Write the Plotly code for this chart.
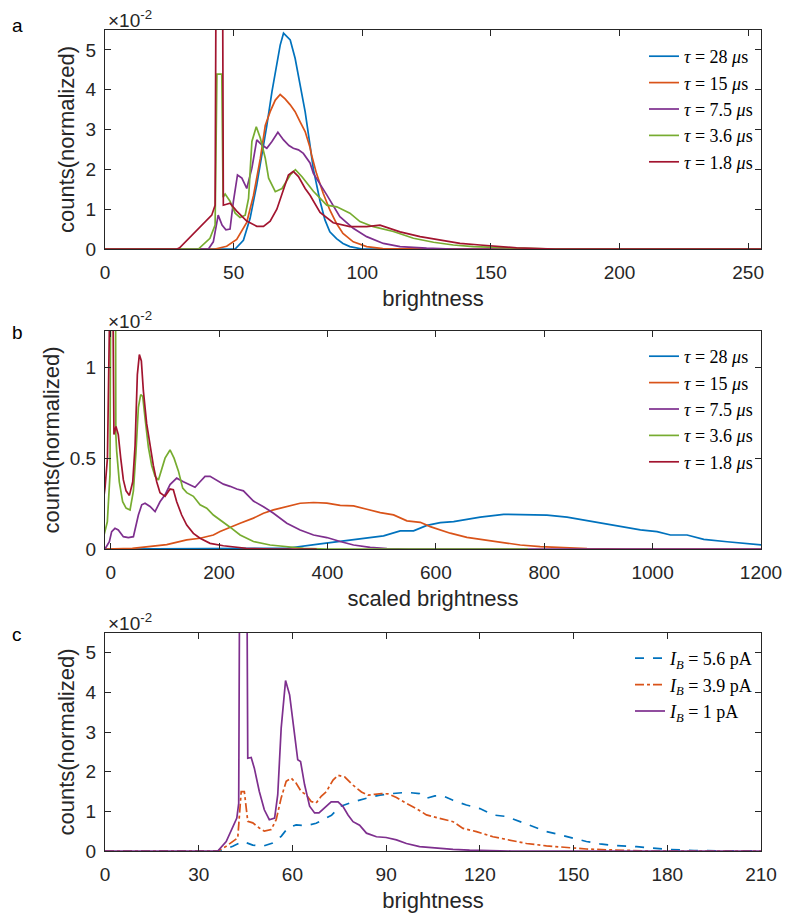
import plotly.graph_objects as go

# ---------------- Panel a : counts (x1e-2) vs brightness ----------------
a_28_x = [0, 50.6, 53.8, 56.4, 59, 61, 62.9, 64.9, 66.8, 68.1, 69.4, 70.7, 72, 73.9, 75.8, 77.8, 79.7, 81, 83.6, 85.5, 87.4, 90, 92.5, 95.2, 100, 255]
a_28_y = [0, 0, 0.22, 0.77, 1.61, 2.36, 3.1, 3.95, 4.7, 5.12, 5.42, 5.33, 5.25, 4.79, 4.12, 3.45, 2.6, 2.0, 1.2, 0.73, 0.43, 0.26, 0.14, 0.06, 0, 0]

a_15_x = [0, 42.8, 47.3, 51.2, 55.1, 57.7, 60.4, 62.3, 64.2, 66.2, 68.1, 70, 72, 73.9, 75.8, 77.8, 79.7, 80.3, 82.2, 84.8, 87.4, 90, 92.5, 96.5, 101.7, 108, 255]
a_15_y = [0, 0, 0.07, 0.24, 0.67, 1.34, 2.28, 3.1, 3.45, 3.74, 3.88, 3.77, 3.62, 3.45, 3.2, 2.95, 2.55, 2.36, 1.9, 1.4, 0.98, 0.64, 0.39, 0.18, 0.06, 0.01, 0]

a_75_x = [0, 40.2, 42.1, 44, 45.5, 47, 48.6, 49.9, 51.5, 53.2, 55.1, 57.1, 59, 61, 62.9, 64.9, 67.2, 69.4, 71.5, 73.2, 75.2, 77.1, 79.7, 81, 86.2, 91.3, 96.5, 101.7, 108.2, 114.7, 125, 135, 255]
a_75_y = [0, 0, 0.18, 0.85, 0.6, 0.48, 0.5, 1.19, 1.86, 1.78, 1.52, 2.03, 2.74, 2.61, 2.53, 2.7, 2.93, 2.74, 2.6, 2.53, 2.49, 2.4, 2.16, 1.9, 1.36, 0.81, 0.52, 0.31, 0.14, 0.06, 0.02, 0, 0]

a_36_x = [0, 36.3, 40.8, 42.8, 43.5, 45.4, 45.9, 46.7, 48.6, 50.6, 52.5, 54.5, 55.8, 57.1, 58.8, 60.4, 62.3, 63.6, 66.2, 68.8, 72, 74, 76.5, 79.7, 81, 86.2, 90.1, 95.2, 99.1, 104.3, 112.1, 119.9, 127.7, 135.4, 143.2, 160, 175, 255]
a_36_y = [0, 0, 0.27, 0.6, 4.39, 4.39, 1.3, 1.38, 1.2, 0.9, 0.79, 0.85, 1.27, 2.7, 3.07, 2.78, 2.28, 1.78, 1.44, 1.52, 1.86, 1.99, 1.82, 1.55, 1.45, 1.1, 1.06, 0.9, 0.69, 0.56, 0.44, 0.27, 0.17, 0.1, 0.06, 0.02, 0, 0]

a_18_x = [0, 28, 29, 34, 38, 41.5, 42.8, 43.3, 45.6, 46, 48.6, 51.2, 55.1, 59, 61.6, 64.2, 66.8, 69.4, 71.3, 73.2, 75.2, 77.8, 79.7, 83.6, 88.7, 95.2, 101.7, 106.9, 114.7, 122.5, 130.2, 138, 145.8, 152.2, 160, 175, 255]
a_18_y = [0, 0, 0.03, 0.35, 0.6, 0.85, 1.1, 9, 9, 1.1, 1.15, 0.95, 0.7, 0.57, 0.57, 0.7, 1.0, 1.52, 1.86, 1.95, 1.82, 1.52, 1.35, 0.92, 0.66, 0.56, 0.56, 0.6, 0.43, 0.31, 0.23, 0.14, 0.1, 0.06, 0.03, 0, 0]

# ---------------- Panel b : counts (x1e-2) vs scaled brightness ----------------
b_28_x = [-12, 250, 325, 386.6, 448.1, 503.5, 534.3, 558.9, 583.5, 608.2, 632.8, 682, 725.1, 755.8, 805.1, 842, 878.9, 928.2, 977.4, 1008.2, 1032.8, 1063.6, 1094.4, 1137.5, 1199, 1210]
b_28_y = [0, 0, 0.004, 0.028, 0.05, 0.072, 0.1, 0.1, 0.13, 0.145, 0.151, 0.175, 0.191, 0.188, 0.186, 0.175, 0.157, 0.133, 0.105, 0.096, 0.077, 0.077, 0.053, 0.04, 0.022, 0.02]

b_15_x = [-12, 40, 103.4, 140.3, 164.9, 189.5, 201.8, 220.3, 238.8, 263.4, 281.9, 300.4, 325, 349.6, 374.3, 398.9, 423.5, 448.1, 472.7, 497.4, 522, 546.6, 558.9, 571.2, 589.6, 626.6, 657.3, 694.3, 718.9, 755.8, 792.7, 829.6, 878.9, 950, 1200]
b_15_y = [0, 0.003, 0.024, 0.05, 0.059, 0.077, 0.096, 0.12, 0.142, 0.17, 0.197, 0.215, 0.233, 0.252, 0.256, 0.252, 0.24, 0.237, 0.219, 0.2, 0.188, 0.155, 0.151, 0.147, 0.123, 0.087, 0.064, 0.049, 0.035, 0.022, 0.013, 0.007, 0.002, 0, 0]

b_75_x = [-12, -10.5, -2.5, 1.8, 7.9, 14, 23.4, 32.6, 41.9, 51.1, 57.3, 63.4, 72.6, 81.9, 91, 100.3, 109.5, 121.8, 134.1, 146.4, 155.6, 164.9, 174.1, 183.4, 195.7, 208, 220.3, 232.6, 244.9, 263.4, 281.9, 300.4, 325, 349.6, 374.3, 398.9, 423.5, 448.1, 478.9, 509.7, 550, 1200]
b_75_y = [0, 0, 0.04, 0.096, 0.114, 0.105, 0.068, 0.063, 0.068, 0.187, 0.243, 0.252, 0.234, 0.206, 0.26, 0.298, 0.355, 0.39, 0.37, 0.355, 0.34, 0.37, 0.4, 0.4, 0.38, 0.357, 0.345, 0.33, 0.32, 0.264, 0.233, 0.197, 0.142, 0.105, 0.077, 0.063, 0.041, 0.022, 0.009, 0.002, 0, 0]

b_36_x = [-12, -10.5, -6.2, -1.3, 1.8, 7.9, 9.5, 11, 15.9, 22.1, 28.4, 35.7, 41.9, 46.8, 51.1, 55.4, 59.1, 63.4, 69.6, 75.7, 81.9, 88.1, 94.2, 100.3, 109.5, 116.9, 124.9, 132.9, 140.3, 152.6, 164.9, 177.2, 189.5, 201.8, 208, 220.3, 238.8, 263.4, 294.2, 325, 355.8, 400, 770]
b_36_y = [0.08, 0.096, 0.15, 0.41, 3, 3, 0.63, 0.54, 0.37, 0.26, 0.225, 0.215, 0.32, 0.54, 0.78, 0.85, 0.84, 0.72, 0.56, 0.46, 0.4, 0.38, 0.44, 0.5, 0.545, 0.5, 0.43, 0.335, 0.31, 0.29, 0.243, 0.225, 0.187, 0.16, 0.15, 0.12, 0.077, 0.041, 0.022, 0.013, 0.004, 0, 0]

b_18_x = [-12, -10.5, -6, -2, 0, 4, 6, 9.8, 14, 18.5, 23.4, 28.4, 34.5, 40.7, 45, 49.2, 52.9, 56.6, 60.3, 66.4, 72.6, 78.7, 84.9, 91, 100.3, 109.5, 115.6, 121.8, 131, 140.3, 152.6, 164.9, 183.4, 208, 250, 300, 380]
b_18_y = [0.3, 0.335, 0.5, 1.3, 3, 3, 0.63, 0.675, 0.63, 0.5, 0.38, 0.32, 0.295, 0.37, 0.57, 0.96, 1.07, 1.035, 0.87, 0.69, 0.56, 0.46, 0.37, 0.31, 0.29, 0.33, 0.326, 0.26, 0.187, 0.132, 0.086, 0.059, 0.031, 0.018, 0.004, 0, 0]

# ---------------- Panel c : counts (x1e-2) vs brightness, beam current ----------------
c_56_x = [0, 37.2, 40.9, 44.1, 47.3, 50.5, 53.7, 56.4, 58.5, 61.2, 64.4, 67.6, 70, 72.5, 75.1, 79.4, 83.7, 88, 92.2, 96.5, 100.7, 102.9, 105.6, 108.3, 111.4, 115.7, 120, 124.2, 128.5, 132.8, 137, 141.3, 145.6, 149.8, 154.1, 158.4, 162.7, 170.2, 180, 188.6, 200, 210]
c_56_y = [0, 0, 0.12, 0.24, 0.15, 0.12, 0.2, 0.37, 0.58, 0.66, 0.64, 0.7, 0.8, 0.9, 1.12, 1.24, 1.33, 1.41, 1.45, 1.48, 1.45, 1.33, 1.39, 1.39, 1.28, 1.16, 1.07, 0.91, 0.87, 0.74, 0.61, 0.49, 0.41, 0.32, 0.24, 0.18, 0.14, 0.11, 0.04, 0.01, 0, 0]

c_39_x = [0, 36.1, 38.8, 42.5, 43.6, 44.6, 45.7, 47.3, 49.4, 51, 53.2, 54.8, 56.4, 58, 59.6, 61.2, 62.8, 64.4, 66, 67.6, 69.2, 70.8, 73, 74.6, 76.7, 79.4, 82.1, 84.2, 86.4, 88.5, 90.6, 93.3, 96.5, 99.7, 102.9, 107.2, 111.4, 114.6, 118.9, 124.2, 129.6, 134.9, 141.3, 147.7, 154.1, 160.5, 175, 210]
c_39_y = [0, 0, 0.12, 0.33, 1.5, 1.5, 0.75, 0.71, 0.58, 0.5, 0.54, 0.79, 1.34, 1.76, 1.84, 1.71, 1.5, 1.42, 1.25, 1.21, 1.38, 1.49, 1.79, 1.91, 1.87, 1.66, 1.49, 1.41, 1.43, 1.45, 1.44, 1.35, 1.2, 1.07, 0.91, 0.82, 0.74, 0.57, 0.49, 0.36, 0.28, 0.19, 0.13, 0.09, 0.05, 0.03, 0, 0]

c_10_x = [0, 36.1, 38.8, 40.9, 42.2, 42.8, 43.2, 45.3, 45.7, 46.8, 47.8, 49.4, 51, 52.6, 54.3, 55.3, 56.4, 57.8, 59.1, 60.3, 61.7, 62.6, 63.9, 65.5, 67.1, 68.5, 70.3, 72.4, 74.6, 76.2, 77.8, 79.4, 81.5, 83.7, 86.9, 90, 93.3, 96.5, 100.7, 106.1, 111.4, 116.7, 130, 210]
c_10_y = [0, 0, 0.24, 0.58, 0.83, 1.2, 9, 9, 2.34, 2.36, 2.09, 1.5, 1.04, 0.79, 0.83, 1.42, 3.1, 4.3, 3.94, 3.18, 2.3, 2.26, 1.67, 1.13, 0.96, 0.96, 1.1, 1.24, 1.24, 1.12, 0.91, 0.74, 0.65, 0.45, 0.36, 0.34, 0.28, 0.19, 0.11, 0.07, 0.04, 0.02, 0, 0]

tau_labels = ["<i>τ</i> = 28 <i>μ</i>s", "<i>τ</i> = 15 <i>μ</i>s", "<i>τ</i> = 7.5 <i>μ</i>s",
              "<i>τ</i> = 3.6 <i>μ</i>s", "<i>τ</i> = 1.8 <i>μ</i>s"]
ib_labels = ["<i>I</i><sub><i>B</i></sub> = 5.6 pA", "<i>I</i><sub><i>B</i></sub> = 3.9 pA",
             "<i>I</i><sub><i>B</i></sub> = 1 pA"]
tau_colors = ["#0072BD", "#D95319", "#7E2F8E", "#77AC30", "#A2142F"]
ib_colors = ["#0072BD", "#D95319", "#7E2F8E"]
ib_dash = ["dash", "dashdot", "solid"]

W, H = 785, 917
def fx(p): return p / W
def fy(p): return 1 - p / H

LW = 1.7
fig = go.Figure()
a_series = [(a_28_x, a_28_y), (a_15_x, a_15_y), (a_75_x, a_75_y), (a_36_x, a_36_y), (a_18_x, a_18_y)]
b_series = [(b_28_x, b_28_y), (b_15_x, b_15_y), (b_75_x, b_75_y), (b_36_x, b_36_y), (b_18_x, b_18_y)]
c_series = [(c_56_x, c_56_y), (c_39_x, c_39_y), (c_10_x, c_10_y)]

for (x, y), name, col in zip(a_series, tau_labels, tau_colors):
    fig.add_trace(go.Scatter(x=x, y=y, mode="lines", name=name, line=dict(color=col, width=LW),
                             xaxis="x", yaxis="y", legend="legend"))
for (x, y), name, col in zip(b_series, tau_labels, tau_colors):
    fig.add_trace(go.Scatter(x=x, y=y, mode="lines", name=name, line=dict(color=col, width=LW),
                             xaxis="x2", yaxis="y2", legend="legend2"))
for (x, y), name, col, d in zip(c_series, ib_labels, ib_colors, ib_dash):
    fig.add_trace(go.Scatter(x=x, y=y, mode="lines", name=name, line=dict(color=col, width=LW, dash=d),
                             xaxis="x3", yaxis="y3", legend="legend3"))

SANS = "Liberation Sans, Arial, sans-serif"
AX = "#262626"
common = dict(showline=True, linecolor=AX, linewidth=1, mirror="ticks", ticks="inside", ticklen=6,
              tickwidth=1, tickcolor=AX, showgrid=False, zeroline=False, automargin=False,
              tickfont=dict(family=SANS, size=19, color=AX))
xd = [fx(105), fx(761)]
dom_a = [fy(249), fy(30)]
dom_b = [fy(549), fy(331)]
dom_c = [fy(851), fy(633)]

def xax(rng, tv, title, anchor):
    return dict(common, domain=xd, range=rng, tickvals=tv, anchor=anchor, ticklabelstandoff=6,
                title=dict(text=title, font=dict(family=SANS, size=22, color=AX), standoff=8))
def yax(rng, tv, tt, dom, anchor):
    return dict(common, domain=dom, range=rng, tickvals=tv, ticktext=tt, anchor=anchor, ticklabelstandoff=4,
                title=dict(text="counts(normalized)", font=dict(family=SANS, size=22, color=AX), standoff=4))

leg_common = dict(font=dict(family="Liberation Serif, Times New Roman, serif", size=18, color="black"),
                  bgcolor="rgba(0,0,0,0)", borderwidth=0, xanchor="right", yanchor="top",
                  itemwidth=30, tracegroupgap=0)

fig.update_layout(
    width=W, height=H, margin=dict(l=0, r=0, t=0, b=0),
    paper_bgcolor="white", plot_bgcolor="white",
    xaxis=xax([0, 255], [0, 50, 100, 150, 200, 250], "brightness", "y"),
    yaxis=yax([0, 5.5], [0, 1, 2, 3, 4, 5], ["0", "1", "2", "3", "4", "5"], dom_a, "x"),
    xaxis2=xax([-10.5, 1200], [0, 200, 400, 600, 800, 1000, 1200], "scaled brightness", "y2"),
    yaxis2=yax([0, 1.2], [0, 0.5, 1], ["0", "0.5", "1"], dom_b, "x2"),
    xaxis3=xax([0, 210], [0, 30, 60, 90, 120, 150, 180, 210], "brightness", "y3"),
    yaxis3=yax([0, 5.5], [0, 1, 2, 3, 4, 5], ["0", "1", "2", "3", "4", "5"], dom_c, "x3"),
    legend=dict(leg_common, x=fx(758), y=fy(38)),
    legend2=dict(leg_common, x=fx(758), y=fy(338)),
    legend3=dict(leg_common, x=fx(758), y=fy(640)),
    showlegend=True,
)

annots = []
for lab, py in [("a", 26), ("b", 332), ("c", 634)]:
    annots.append(dict(text=lab, x=fx(17), y=fy(py), xref="paper", yref="paper", showarrow=False,
                       xanchor="center", yanchor="middle", font=dict(family=SANS, size=19, color="black")))
for py in [19, 320, 622]:
    annots.append(dict(text="×10<sup>-2</sup>", x=fx(106), y=fy(py), xref="paper", yref="paper", showarrow=False,
                       xanchor="left", yanchor="middle", font=dict(family=SANS, size=19, color=AX)))
fig.update_layout(annotations=annots)

fig.write_html("out.html")
